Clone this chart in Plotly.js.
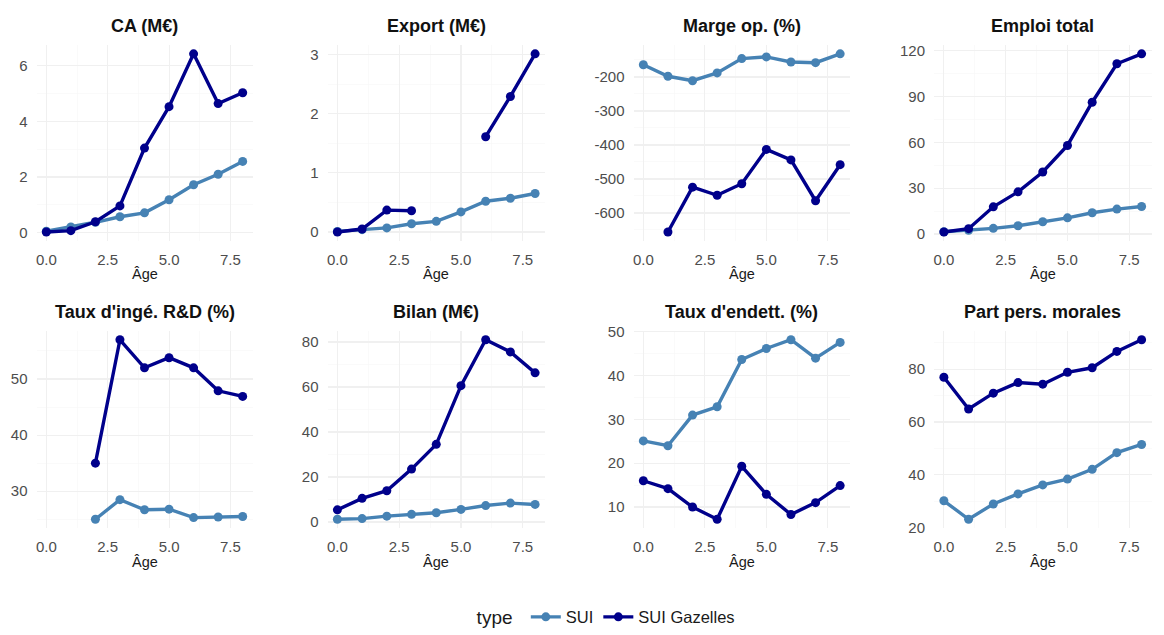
<!DOCTYPE html>
<html>
<head>
<meta charset="utf-8">
<script src="https://cdn.plot.ly/plotly-3.0.1.min.js"></script>
<style>
  html, body { margin: 0; padding: 0; background: #ffffff; }
  #chart { width: 1164px; height: 635px; }
</style>
</head>
<body>
<div id="chart"></div>
<script>
// Age of the firm (years)
const age = [0, 1, 2, 3, 4, 5, 6, 7, 8];

// Series names
const seriesNames = ['SUI', 'SUI Gazelles'];

// Indicator panel titles
const panelTitles = [
  'CA (M€)', 'Export (M€)', 'Marge op. (%)', 'Emploi total',
  "Taux d'ingé. R&D (%)", 'Bilan (M€)', "Taux d'endett. (%)", 'Part pers. morales'
];

// Values per indicator: SUI and SUI Gazelles
const caSui      = [0.05, 0.2, 0.37, 0.57, 0.71, 1.18, 1.72, 2.1, 2.56];
const caGaz      = [0.02, 0.07, 0.39, 0.96, 3.04, 4.53, 6.43, 4.64, 5.03];
const exportSui  = [0.01, 0.04, 0.07, 0.14, 0.18, 0.34, 0.52, 0.57, 0.65];
const exportGaz  = [0.0, 0.05, 0.37, 0.36, null, null, 1.61, 2.29, 3.01];
const margeSui   = [-164, -198, -211, -188, -146, -141, -156, -158, -132];
const margeGaz   = [null, -656, -524, -548, -514, -413, -444, -564, -458];
const emploiSui  = [1.5, 2.4, 3.7, 5.4, 8.0, 10.6, 13.9, 16.3, 18.0];
const emploiGaz  = [1.3, 3.5, 17.8, 27.6, 40.6, 58.0, 86.3, 111.5, 118.0];
const ingeSui    = [null, null, 25.0, 28.5, 26.7, 26.8, 25.3, 25.4, 25.5];
const ingeGaz    = [null, null, 35.0, 57.0, 52.0, 53.8, 52.0, 47.9, 46.9];
const bilanSui   = [1.2, 1.5, 2.6, 3.4, 4.1, 5.6, 7.3, 8.4, 7.8];
const bilanGaz   = [5.4, 10.5, 13.9, 23.5, 34.5, 60.6, 81.0, 75.6, 66.3];
const endettSui  = [25.1, 24.0, 31.0, 32.9, 43.7, 46.2, 48.2, 44.0, 47.6];
const endettGaz  = [16.0, 14.2, 10.0, 7.2, 19.3, 12.9, 8.3, 11.0, 14.9];
const partSui    = [30.2, 23.2, 29.0, 32.8, 36.2, 38.4, 42.1, 48.4, 51.5];
const partGaz    = [76.9, 64.9, 70.9, 74.9, 74.3, 78.8, 80.5, 86.7, 91.1];

const suiValues = [caSui, exportSui, margeSui, emploiSui, ingeSui, bilanSui, endettSui, partSui];
const gazValues = [caGaz, exportGaz, margeGaz, emploiGaz, ingeGaz, bilanGaz, endettGaz, partGaz];

// Major y tick spacing for each panel
const yStep = [2, 1, 100, 30, 10, 20, 10, 20];

// ---- page geometry (pixels) ----
const W = 1164, H = 635;
const colPx = [[36.5, 252.5], [327.5, 545], [633.5, 850], [934, 1151.5]];
const rowPx = [[45.5, 244], [335, 535]];
const titleY = [26, 316];
const ageLabelY = [277, 569];

const colors = { 'SUI': '#4682B4', 'SUI Gazelles': '#00008B' };
const FONT = 'Liberation Sans, Arial, Helvetica, sans-serif';

const px2x = v => v / W;
const px2y = v => 1 - v / H;

const traces = [];
const layout = {
  width: W, height: H,
  margin: { l: 0, r: 0, t: 0, b: 0 },
  paper_bgcolor: '#ffffff',
  plot_bgcolor: '#ffffff',
  font: { family: FONT, color: '#4D4D4D' },
  showlegend: true,
  legend: {
    orientation: 'h',
    x: 0.522, xanchor: 'center',
    y: px2y(625), yanchor: 'middle',
    title: { text: 'type ', side: 'left', font: { size: 19, color: '#1a1a1a', family: FONT } },
    font: { size: 16.5, color: '#1a1a1a', family: FONT },
    itemwidth: 30,
    tracegroupgap: 0,
    bgcolor: 'rgba(0,0,0,0)'
  },
  annotations: []
};

function yRange(a, b) {
  const vals = a.concat(b).filter(v => v !== null);
  const lo = Math.min(...vals), hi = Math.max(...vals);
  const pad = (hi - lo) * 0.05;
  return [lo - pad, hi + pad];
}

// Tick positions inside a range, labelled with a plain hyphen for negatives
function ticksFor(range, step) {
  const vals = [];
  for (let v = Math.ceil(range[0] / step) * step; v <= range[1]; v += step) {
    vals.push(Math.round(v * 1000) / 1000);
  }
  return { vals: vals, text: vals.map(v => String(v)) };
}

for (let i = 0; i < 8; i++) {
  const r = Math.floor(i / 4), c = i % 4;
  const n = i + 1;
  const xa = n === 1 ? 'xaxis' : 'xaxis' + n;
  const ya = n === 1 ? 'yaxis' : 'yaxis' + n;
  const xr = n === 1 ? 'x' : 'x' + n;
  const yr = n === 1 ? 'y' : 'y' + n;

  const grid = {
    showgrid: true, gridcolor: '#F0F0F0', gridwidth: 1.1,
    zeroline: false, showline: false, ticks: '',
    tickfont: { size: 15, color: '#4D4D4D', family: FONT }
  };

  const yr_ = yRange(suiValues[i], gazValues[i]);
  const yt = ticksFor(yr_, yStep[i]);

  layout[xa] = Object.assign({}, grid, {
    domain: [px2x(colPx[c][0]), px2x(colPx[c][1])],
    anchor: yr,
    range: [-0.4, 8.4],
    tick0: 0, dtick: 2.5, tickformat: '.1f',
    ticklabelstandoff: 8,
    minor: { dtick: 1.25, tick0: 0, showgrid: true, gridcolor: '#F6F6F6', gridwidth: 0.6 }
  });
  layout[ya] = Object.assign({}, grid, {
    domain: [px2y(rowPx[r][1]), px2y(rowPx[r][0])],
    anchor: xr,
    range: yr_,
    tickmode: 'array', tickvals: yt.vals, ticktext: yt.text,
    ticklabelstandoff: 8,
    minor: { dtick: yStep[i] / 2, tick0: 0, showgrid: true, gridcolor: '#F6F6F6', gridwidth: 0.6 }
  });

  const series = [suiValues[i], gazValues[i]];
  series.forEach((vals, k) => {
    const name = seriesNames[k];
    traces.push({
      type: 'scatter', mode: 'lines+markers',
      x: age, y: vals, xaxis: xr, yaxis: yr,
      name: name, legendgroup: name, showlegend: i === 0,
      connectgaps: false,
      line: { color: colors[name], width: 3.4 },
      marker: { color: colors[name], size: 9 },
      hoverinfo: 'x+y+name'
    });
  });

  const cx = px2x((colPx[c][0] + colPx[c][1]) / 2);
  layout.annotations.push({
    text: panelTitles[i], xref: 'paper', yref: 'paper',
    x: cx, y: px2y(titleY[r]), xanchor: 'center', yanchor: 'middle',
    showarrow: false,
    font: { size: 18, color: '#111111', family: FONT, weight: 'bold' }
  });
  layout.annotations.push({
    text: 'Âge', xref: 'paper', yref: 'paper',
    x: cx, y: px2y(ageLabelY[r]), xanchor: 'center', yanchor: 'middle',
    showarrow: false,
    font: { size: 14.5, color: '#1a1a1a', family: FONT }
  });
}

Plotly.newPlot('chart', traces, layout, { displayModeBar: false, staticPlot: true });
</script>
</body>
</html>
